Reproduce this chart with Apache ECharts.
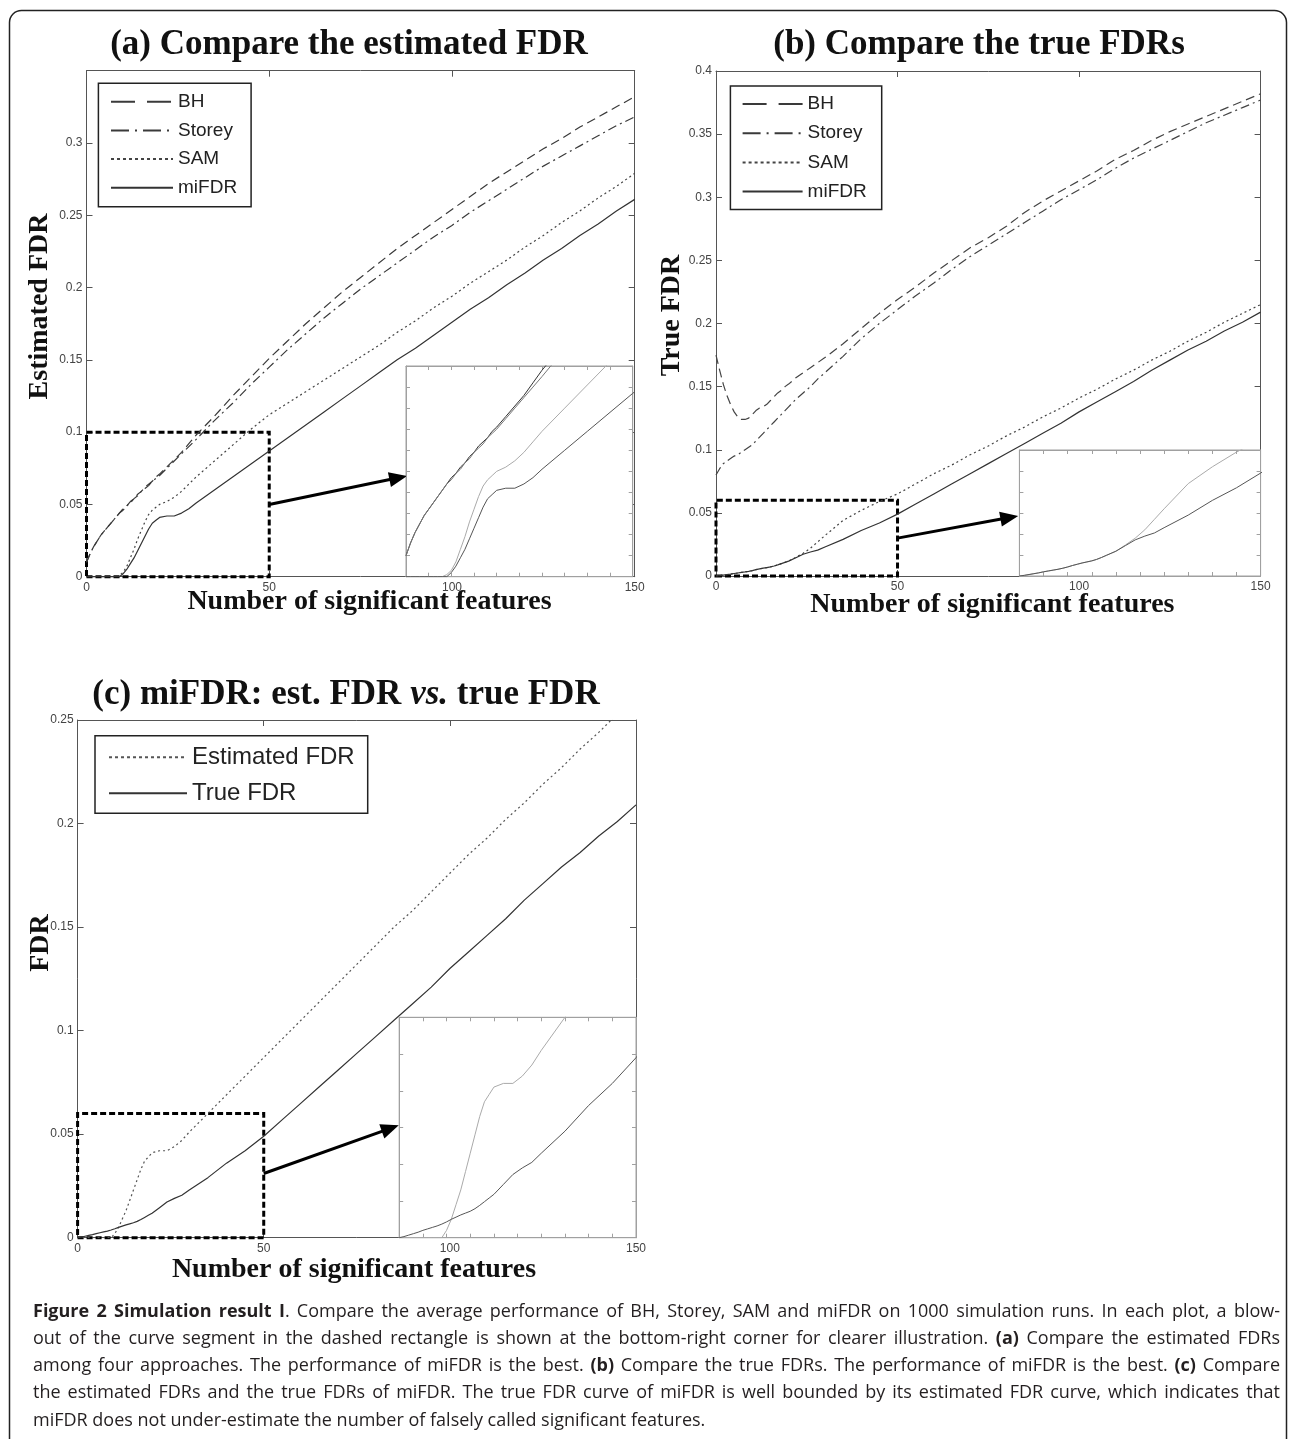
<!DOCTYPE html>
<html><head><meta charset="utf-8">
<script src="https://cdn.jsdelivr.net/npm/echarts@6/dist/echarts.min.js"></script>
<style>html,body{margin:0;padding:0;background:#fff}#c{width:1290px;height:1439px}</style>
</head><body><div id="c"></div><script>
// ---------------- data ----------------
const xs = [0,1,2,3,4,5,6,7,8,9,10,11,12,13,14,15,16,17,18,19,20,22,24,26,28,30,35,40,45,50,55,60,65,70,75,80,85,90,95,100,105,110,115,120,125,130,135,140,145,150];
// (a) estimated FDR
const bhA = [0.010,0.016,0.021,0.025,0.029,0.032,0.035,0.038,0.041,0.044,0.047,0.049,0.052,0.054,0.057,0.059,0.062,0.064,0.066,0.069,0.071,0.076,0.081,0.086,0.092,0.098,0.111,0.125,0.138,0.151,0.163,0.175,0.186,0.197,0.207,0.217,0.227,0.236,0.245,0.254,0.263,0.272,0.280,0.288,0.296,0.303,0.311,0.318,0.325,0.332];
const storeyA = [0.010,0.016,0.021,0.025,0.029,0.032,0.035,0.038,0.041,0.044,0.046,0.049,0.051,0.054,0.056,0.059,0.061,0.063,0.066,0.068,0.070,0.075,0.080,0.085,0.090,0.095,0.108,0.120,0.133,0.145,0.157,0.168,0.179,0.189,0.199,0.208,0.217,0.226,0.235,0.243,0.252,0.260,0.268,0.276,0.284,0.291,0.298,0.305,0.312,0.318];
const samA = [0,0,0,0,0,0,0,0,0,0.001,0.003,0.007,0.013,0.019,0.026,0.032,0.038,0.043,0.046,0.048,0.050,0.052,0.055,0.059,0.064,0.069,0.080,0.091,0.102,0.112,0.120,0.128,0.136,0.144,0.152,0.160,0.169,0.177,0.186,0.194,0.203,0.211,0.219,0.228,0.236,0.245,0.253,0.262,0.270,0.279];
const miFdrA = [0,0,0,0,0,0,0,0,0,0,0.002,0.005,0.009,0.013,0.018,0.023,0.028,0.033,0.037,0.039,0.041,0.042,0.042,0.044,0.047,0.051,0.060,0.069,0.078,0.087,0.096,0.105,0.114,0.123,0.132,0.141,0.150,0.158,0.167,0.176,0.185,0.193,0.202,0.210,0.219,0.227,0.236,0.244,0.253,0.261];
// (b) true FDR
const bhB = [0.175,0.163,0.152,0.143,0.136,0.130,0.126,0.124,0.124,0.125,0.128,0.131,0.133,0.134,0.136,0.139,0.142,0.145,0.147,0.150,0.152,0.157,0.161,0.165,0.169,0.173,0.184,0.196,0.208,0.219,0.229,0.240,0.250,0.260,0.268,0.277,0.288,0.297,0.305,0.313,0.321,0.330,0.337,0.345,0.352,0.358,0.364,0.370,0.376,0.382];
const storeyB = [0.080,0.085,0.089,0.091,0.093,0.095,0.096,0.098,0.100,0.102,0.104,0.107,0.110,0.113,0.116,0.119,0.122,0.125,0.128,0.131,0.134,0.140,0.145,0.150,0.156,0.161,0.174,0.188,0.200,0.211,0.222,0.232,0.243,0.253,0.262,0.271,0.280,0.289,0.298,0.306,0.314,0.323,0.331,0.338,0.345,0.352,0.359,0.365,0.371,0.377];
const samB = [0,0.0003,0.0007,0.0011,0.0015,0.002,0.0024,0.0028,0.0032,0.0037,0.0043,0.005,0.0056,0.0062,0.0067,0.0072,0.0079,0.0088,0.0098,0.0108,0.0118,0.0148,0.018,0.022,0.027,0.032,0.044,0.052,0.059,0.065,0.073,0.081,0.088,0.096,0.103,0.111,0.118,0.126,0.133,0.141,0.148,0.156,0.163,0.171,0.178,0.186,0.193,0.201,0.208,0.215];
const miFdrB = [0,0.0003,0.0007,0.0011,0.0015,0.002,0.0024,0.0028,0.0032,0.0037,0.0043,0.005,0.0056,0.0062,0.0067,0.0072,0.0079,0.0088,0.0098,0.0108,0.0118,0.0145,0.0172,0.019,0.0205,0.023,0.029,0.036,0.042,0.049,0.057,0.065,0.073,0.081,0.089,0.097,0.105,0.113,0.121,0.130,0.138,0.146,0.154,0.163,0.171,0.179,0.186,0.194,0.201,0.209];
// (c) miFDR: estimated vs true (same curves as miFDR in (a) and (b))
const estFdrC = miFdrA;
const trueFdrC = miFdrB;

// axis ranges
const xMain = [0, 150], xMainStep = 50;
const yA = [0, 0.35], yB = [0, 0.4], yC = [0, 0.25], yMainStep = 0.05;
const zoomX = [0, 50], zoomXStep = 5;
const zoomYA = [0, 0.1], zoomYB = [0, 0.06], zoomYC = [0, 0.06], zoomYStep = 0.01;
// arrows: [start, end] in data coords of the main panel
const arrowA = [[50, 0.05], [85.3, 0.0684]];
const arrowB = [[50, 0.030], [80.8, 0.0463]];
const arrowC = [[50, 0.031], [84.0, 0.0528]];

// ---------------- layout ----------------
const panels = [
  {g:{left:86.5, top:70.7, width:548.2, height:506}, x:xMain, xi:xMainStep, y:yA, yi:yMainStep, inset:false, showMax:false},
  {g:{left:406, top:366, width:226.7, height:210.7}, x:zoomX, xi:zoomXStep, y:zoomYA, yi:zoomYStep, inset:true},
  {g:{left:716, top:71, width:544.6, height:505}, x:xMain, xi:xMainStep, y:yB, yi:yMainStep, inset:false, showMax:true},
  {g:{left:1019.4, top:450, width:241.2, height:126}, x:zoomX, xi:zoomXStep, y:zoomYB, yi:zoomYStep, inset:true},
  {g:{left:77.6, top:720, width:558.4, height:517.7}, x:xMain, xi:xMainStep, y:yC, yi:yMainStep, inset:false, showMax:true},
  {g:{left:399.2, top:1017.3, width:236.8, height:220.4}, x:zoomX, xi:zoomXStep, y:zoomYC, yi:zoomYStep, inset:true}
];
const MAINC = '#555', INSC = '#a0a0a0';
const grids = [], xAxes = [], yAxes = [];
const fmt = v => String(+v.toFixed(3));
panels.forEach((p, k) => {
  grids.push(Object.assign({containLabel:false, outerBoundsMode:'none', show:p.inset, backgroundColor:'#fff', borderColor:INSC, borderWidth:1, z:p.inset?5:0}, p.g));
  const c = p.inset ? INSC : MAINC;
  ['bottom','top'].forEach((pos, j) => xAxes.push({
    type:'value', gridIndex:k, position:pos, min:p.x[0], max:p.x[1], interval:p.xi,
    axisLine:{show:true, onZero:false, lineStyle:{color:c, width:1}},
    axisTick:{show:true, inside:true, length:p.inset?4:6, lineStyle:{color:c}},
    axisLabel:{show:!p.inset && j===0, margin:5, fontFamily:'Liberation Sans', fontSize:12, color:'#444', formatter:fmt},
    splitLine:{show:false}, z:p.inset?6:0
  }));
  ['left','right'].forEach((pos, j) => yAxes.push({
    type:'value', gridIndex:k, position:pos, min:p.y[0], max:p.y[1], interval:p.yi,
    axisLine:{show:true, onZero:false, lineStyle:{color:c, width:1}},
    axisTick:{show:true, inside:true, length:p.inset?4:6, lineStyle:{color:c}},
    axisLabel:{show:!p.inset && j===0, margin:4, showMaxLabel:p.showMax, fontFamily:'Liberation Sans', fontSize:12, color:'#444', formatter:fmt},
    splitLine:{show:false}, z:p.inset?6:0
  }));
});

const pts = ys => xs.map((x, i) => [x, ys[i]]);
const DASH = {BH:[9,5], Storey:[9,4,2,4], SAM:[2,3], solid:'solid'};
function line(name, ys, k, color, type, width, extra) {
  return Object.assign({
    type:'line', name, data:pts(ys), xAxisIndex:2*k, yAxisIndex:2*k,
    symbol:'none', showSymbol:false, silent:true, color,
    lineStyle:{color, width, type}, z:(k%2===1)?7:2, animation:false
  }, extra || {});
}
function marks(zx, zy, arrow) {
  return {
    clip:false,
    markArea:{silent:true, label:{show:false},
      itemStyle:{color:'rgba(0,0,0,0)', borderColor:'#000', borderWidth:3, borderType:[6,3]},
      data:[[{coord:[zx[0], zy[0]]}, {coord:[zx[1], zy[1]]}]]},
    markLine:{silent:true, symbol:['none','triangle'], symbolSize:[15,18], animation:false,
      lineStyle:{color:'#000', width:3, type:'solid'}, label:{show:false},
      data:[[{coord:arrow[0]}, {coord:arrow[1]}]]}
  };
}
const series = [
  line('BH', bhA, 0, '#3a3a3a', DASH.BH, 1.2),
  line('Storey', storeyA, 0, '#3a3a3a', DASH.Storey, 1.2),
  line('SAM', samA, 0, '#444', DASH.SAM, 1.2),
  line('miFDR', miFdrA, 0, '#333', DASH.solid, 1.2, marks(zoomX, zoomYA, arrowA)),
  line('BH (blow-out a)', bhA, 1, '#333', 'solid', 1),
  line('Storey (blow-out a)', storeyA, 1, '#777', 'solid', 1),
  line('SAM (blow-out a)', samA, 1, '#aaa', 'solid', 1),
  line('miFDR (blow-out a)', miFdrA, 1, '#555', 'solid', 1),
  line('BH', bhB, 2, '#444', DASH.BH, 1.2),
  line('Storey', storeyB, 2, '#444', DASH.Storey, 1.2),
  line('SAM', samB, 2, '#444', DASH.SAM, 1.2),
  line('miFDR', miFdrB, 2, '#333', DASH.solid, 1.2, marks(zoomX, zoomYB, arrowB)),
  line('SAM (blow-out b)', samB, 3, '#aaa', 'solid', 1),
  line('miFDR (blow-out b)', miFdrB, 3, '#555', 'solid', 1),
  line('Estimated FDR', estFdrC, 4, '#555', DASH.SAM, 1.2),
  line('True FDR', trueFdrC, 4, '#333', DASH.solid, 1.2, marks(zoomX, zoomYC, arrowC)),
  line('Estimated FDR (blow-out c)', estFdrC, 5, '#aaa', 'solid', 1),
  line('True FDR (blow-out c)', trueFdrC, 5, '#555', 'solid', 1)
];

function legend(left, top, data, itemW, fs, lh, gap, pad) {
  return {left, top, orient:'vertical', data, itemWidth:itemW, itemHeight:14, itemGap:gap, padding:pad,
    borderColor:'#222', borderWidth:1.5, backgroundColor:'#fff', selectedMode:false, z:8,
    itemStyle:{opacity:0, color:'rgba(0,0,0,0)', borderWidth:0},
    textStyle:{fontFamily:'Liberation Sans', fontSize:fs, lineHeight:lh, color:'#222'}};
}
const legData = [
  {name:'BH', lineStyle:{type:[24,12]}},
  {name:'Storey', lineStyle:{type:[18,6,2,6]}},
  {name:'SAM', lineStyle:{type:[3,3]}},
  {name:'miFDR'}
];
const legends = [
  legend(98.4, 83.3, legData, 62, 19, 20, 8.7, [8.4, 14, 9, 11.6]),
  legend(730.4, 86, legData, 60, 19, 20, 9.2, [8, 15, 8, 11.2]),
  legend(95, 735.7, [{name:'Estimated FDR', lineStyle:{type:[3,3]}}, {name:'True FDR'}], 78, 24, 26, 10, [8.6, 13, 7, 13])
];

// ---------------- texts ----------------
const SERIF = 'Liberation Serif';
function txt(text, x, y, size, rot, extra) {
  return Object.assign({type:'text', x, y, rotation:rot||0, silent:true, z:10,
    style:{text, fontFamily:SERIF, fontWeight:'bold', fontSize:size, fill:'#111', align:'center', verticalAlign:'middle'}}, extra||{});
}
const graphics = [
  {type:'rect', silent:true, z:-1, shape:{x:9.5, y:10.5, width:1277, height:1460, r:12}, style:{fill:'none', stroke:'#222', lineWidth:1.5}},
  txt('(a) Compare the estimated FDR', 349, 45, 35),
  txt('(b) Compare the true FDRs', 979, 45, 35),
  {type:'text', x:346, y:695, silent:true, z:10, style:{text:'{n|(c) miFDR: est. FDR }{i|vs.}{n| true FDR}', align:'center', verticalAlign:'middle',
    rich:{n:{fontFamily:SERIF, fontWeight:'bold', fontSize:35, fill:'#111'}, i:{fontFamily:SERIF, fontWeight:'bold', fontStyle:'italic', fontSize:35, fill:'#111'}}}},
  txt('Number of significant features', 369.5, 602, 28),
  txt('Number of significant features', 992.4, 605, 28),
  txt('Number of significant features', 354, 1270, 28),
  txt('Estimated FDR', 40, 306.5, 28, Math.PI/2),
  txt('True FDR', 672, 315.5, 28, Math.PI/2),
  txt('FDR', 41, 943, 28, Math.PI/2)
];

// caption (justified word by word)
const capLines = [
  [['Figure 2 Simulation result I',1],['. Compare the average performance of BH, Storey, SAM and miFDR on 1000 simulation runs. In each plot, a blow-',0]],
  [['out of the curve segment in the dashed rectangle is shown at the bottom-right corner for clearer illustration. ',0],['(a)',1],[' Compare the estimated FDRs',0]],
  [['among four approaches. The performance of miFDR is the best. ',0],['(b)',1],[' Compare the true FDRs. The performance of miFDR is the best. ',0],['(c)',1],[' Compare',0]],
  [['the estimated FDRs and the true FDRs of miFDR. The true FDR curve of miFDR is well bounded by its estimated FDR curve, which indicates that',0]],
  [['miFDR does not under-estimate the number of falsely called significant features.',0]]
];
const CAP_FONT = 'Open Sans', CAP_SIZE = 18, CAP_X0 = 33, CAP_X1 = 1280, CAP_Y0 = 1312, CAP_DY = 27.1;
const mctx = document.createElement('canvas').getContext('2d');
function mw(t, b) { mctx.font = (b ? 'bold ' : '') + CAP_SIZE + 'px "' + CAP_FONT + '"'; return mctx.measureText(t).width; }
capLines.forEach((segs, li) => {
  const words = []; let cur = [];
  segs.forEach(([t, b]) => {
    t.split(' ').forEach((part, j) => {
      if (j > 0 && cur.length) { words.push(cur); cur = []; }
      if (part) cur.push({t:part, b});
    });
  });
  if (cur.length) words.push(cur);
  const widths = words.map(w => w.reduce((s, p) => s + mw(p.t, p.b), 0));
  const total = widths.reduce((a, b) => a + b, 0);
  const last = li === capLines.length - 1;
  const gap = last ? mw(' ', 0) : (CAP_X1 - CAP_X0 - total) / (words.length - 1);
  let x = CAP_X0; const y = CAP_Y0 + li * CAP_DY;
  words.forEach((w, wi) => {
    let px = x;
    w.forEach(p => {
      graphics.push({type:'text', x:px, y, silent:true, z:10, style:{text:p.t, fontFamily:CAP_FONT, fontSize:CAP_SIZE,
        fontWeight:p.b ? 'bold' : 'normal', fill:'#231f20', align:'left', verticalAlign:'middle'}});
      px += mw(p.t, p.b);
    });
    x += widths[wi] + gap;
  });
});

const chart = echarts.init(document.getElementById('c'), null, {renderer:'canvas'});
chart.setOption({
  animation:false, backgroundColor:'#fff',
  grid:grids, xAxis:xAxes, yAxis:yAxes, legend:legends, series, graphic:graphics
});
</script></body></html>
